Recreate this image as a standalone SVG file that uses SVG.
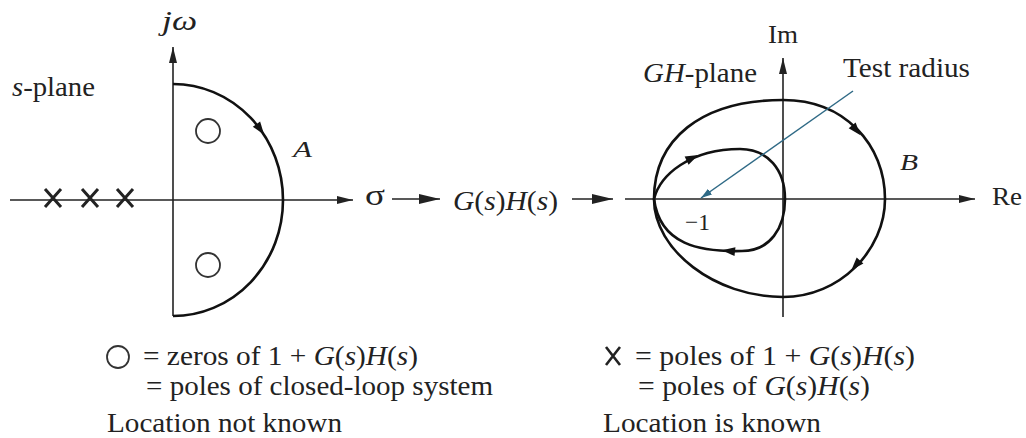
<svg xmlns="http://www.w3.org/2000/svg" width="1026" height="438" viewBox="0 0 1026 438">
<defs>
<style>
text{font-family:"Liberation Serif","Times New Roman",serif;fill:#222;}
.it{font-style:italic;}
.ax{stroke:#222;stroke-width:1.6;fill:none;}
.cv{stroke:#111;stroke-width:2.6;fill:none;}
.cr{stroke:#222;stroke-width:3;fill:none;}
.zc{stroke:#333;stroke-width:1.8;fill:none;}
.tr{stroke:#2f6a86;stroke-width:1.5;fill:none;}
.hd{fill:#111;}
</style>
<marker id="axh" markerUnits="userSpaceOnUse" markerWidth="18" markerHeight="10" refX="16" refY="5" orient="auto"><path d="M0,1 L16,5 L0,9 Z" fill="#222"/></marker>
<marker id="cnh" markerUnits="userSpaceOnUse" markerWidth="22" markerHeight="12" refX="21" refY="6" orient="auto"><path d="M0,1 L21,6 L0,11 Z" fill="#222"/></marker>
<marker id="trh" markerUnits="userSpaceOnUse" markerWidth="12" markerHeight="8" refX="11" refY="4" orient="auto"><path d="M0,0.5 L11,4 L0,7.5 Z" fill="#2f6a86"/></marker>
<path id="ah" d="M7,0 L-6,-4.5 L-6,4.5 Z"/>
<g id="xm"><path d="M-8,-9 L8,9 M8,-9 L-8,9"/></g>
</defs>

<g id="s-plane">
  <line class="ax" x1="10" y1="200" x2="353" y2="200" marker-end="url(#axh)"/>
  <line class="ax" x1="173" y1="316" x2="173" y2="47" marker-end="url(#axh)"/>
  <path class="cv" d="M173,84 A110,116 0 0 1 173,316"/>
  <use href="#ah" class="hd" transform="translate(260,129) rotate(54)"/>
  <circle class="zc" cx="208" cy="131" r="12"/>
  <circle class="zc" cx="208" cy="265" r="12"/>
  <use href="#xm" class="cr" transform="translate(53,198)"/>
  <use href="#xm" class="cr" transform="translate(90,198)"/>
  <use href="#xm" class="cr" transform="translate(125,198)"/>
  <text x="162" y="30" font-size="28" class="it" textLength="35" lengthAdjust="spacingAndGlyphs">jω</text>
  <text x="12" y="96" font-size="28" textLength="83" lengthAdjust="spacingAndGlyphs"><tspan class="it">s</tspan>-plane</text>
  <text x="293" y="157" font-size="24" class="it" textLength="19" lengthAdjust="spacingAndGlyphs">A</text>
  <text x="365" y="205" font-size="30" textLength="20" lengthAdjust="spacingAndGlyphs">σ</text>
</g>

<g id="mapping">
  <text x="453" y="210" font-size="28" textLength="105" lengthAdjust="spacingAndGlyphs"><tspan class="it">G</tspan>(<tspan class="it">s</tspan>)<tspan class="it">H</tspan>(<tspan class="it">s</tspan>)</text>
</g>

<g id="connectors">
  <line class="ax" x1="392" y1="199" x2="440" y2="199" marker-end="url(#cnh)"/>
  <line class="ax" x1="572" y1="199" x2="613" y2="199" marker-end="url(#cnh)"/>
</g>

<g id="gh-plane">
  <line class="ax" x1="625" y1="199" x2="975" y2="199" marker-end="url(#axh)"/>
  <line class="ax" x1="783" y1="317" x2="783" y2="58" marker-end="url(#axh)"/>
  <path class="cv" d="M654,199 C654,140 700,100 783,100 C845,100 885,145 885,199 C885,250 840,297 783,297 C715,297 654,250 654,199 Z"/>
  <path class="cv" d="M654,199 C660,175 690,149 740,149 C768,149 785,170 785,199 C785,228 770,251 742,251 C700,252 660,245 654,199"/>
  <use href="#ah" class="hd" transform="translate(856,130) rotate(50)"/>
  <use href="#ah" class="hd" transform="translate(856,265) rotate(132)"/>
  <use href="#ah" class="hd" transform="translate(692,158) rotate(-26)"/>
  <use href="#ah" class="hd" transform="translate(729,251) rotate(186)"/>
  <line class="tr" x1="853" y1="91" x2="701" y2="198" marker-end="url(#trh)"/>
  <text x="768" y="43" font-size="26" textLength="30" lengthAdjust="spacingAndGlyphs">Im</text>
  <text x="643" y="82" font-size="27" textLength="114" lengthAdjust="spacingAndGlyphs"><tspan class="it">GH</tspan>-plane</text>
  <text x="843" y="77" font-size="28" textLength="127" lengthAdjust="spacingAndGlyphs">Test radius</text>
  <text x="900" y="170" font-size="24" class="it" textLength="18" lengthAdjust="spacingAndGlyphs">B</text>
  <text x="992" y="205" font-size="26" textLength="30" lengthAdjust="spacingAndGlyphs">Re</text>
  <text x="685" y="230" font-size="24" textLength="25" lengthAdjust="spacingAndGlyphs">−1</text>
</g>

<g id="legend-zeros">
  <circle class="zc" cx="118" cy="357" r="11"/>
  <text x="143" y="365" font-size="27" textLength="275" lengthAdjust="spacingAndGlyphs">= zeros of 1 + <tspan class="it">G</tspan>(<tspan class="it">s</tspan>)<tspan class="it">H</tspan>(<tspan class="it">s</tspan>)</text>
  <text x="146" y="395" font-size="27" textLength="347" lengthAdjust="spacingAndGlyphs">= poles of closed-loop system</text>
  <text x="107" y="432" font-size="27" textLength="235" lengthAdjust="spacingAndGlyphs">Location not known</text>
</g>

<g id="legend-poles">
  <g transform="translate(613,356)" stroke="#222" stroke-width="2.6" fill="none"><path d="M-7,-9 L7,9 M7,-9 L-7,9"/></g>
  <text x="635" y="365" font-size="27" textLength="280" lengthAdjust="spacingAndGlyphs">= poles of 1 + <tspan class="it">G</tspan>(<tspan class="it">s</tspan>)<tspan class="it">H</tspan>(<tspan class="it">s</tspan>)</text>
  <text x="638" y="395" font-size="27" textLength="232" lengthAdjust="spacingAndGlyphs">= poles of <tspan class="it">G</tspan>(<tspan class="it">s</tspan>)<tspan class="it">H</tspan>(<tspan class="it">s</tspan>)</text>
  <text x="603" y="432" font-size="27" textLength="218" lengthAdjust="spacingAndGlyphs">Location is known</text>
</g>
</svg>
